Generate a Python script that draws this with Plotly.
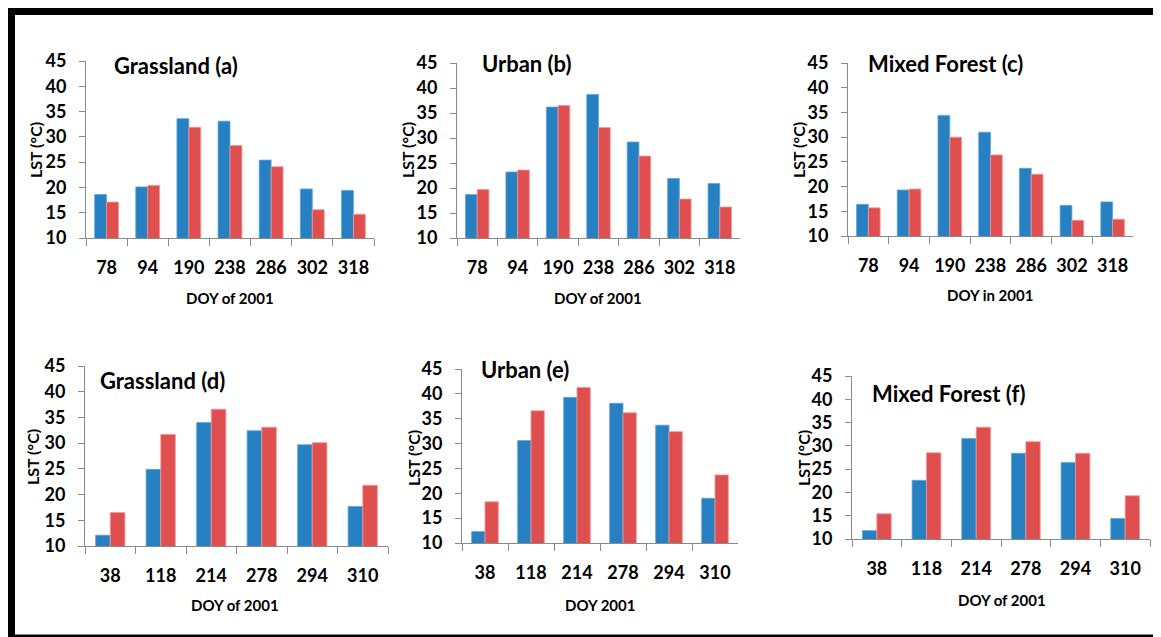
import plotly.graph_objects as go

FIG_W, FIG_H = 1161, 637
OFF = 8  # page offset of the figure inside the browser window (body margin)

# ---------------- data ----------------
doy_top = ["78", "94", "190", "238", "286", "302", "318"]
doy_bottom = ["38", "118", "214", "278", "294", "310"]

grass_a_blue = [18.6, 20.1, 33.6, 33.1, 25.4, 19.7, 19.4]
grass_a_red = [17.1, 20.4, 31.9, 28.3, 24.1, 15.6, 14.7]

urban_b_blue = [18.7, 23.2, 36.2, 38.7, 29.2, 21.9, 20.9]
urban_b_red = [19.7, 23.6, 36.5, 32.1, 26.4, 17.8, 16.2]

forest_c_blue = [16.4, 19.3, 34.4, 31.0, 23.7, 16.2, 16.9]
forest_c_red = [15.7, 19.5, 30.0, 26.4, 22.5, 13.2, 13.4]

grass_d_blue = [12.1, 24.9, 34.0, 32.4, 29.7, 17.7]
grass_d_red = [16.5, 31.7, 36.6, 33.1, 30.1, 21.8]

urban_e_blue = [12.3, 30.6, 39.3, 38.1, 33.7, 19.0]
urban_e_red = [18.3, 36.6, 41.3, 36.2, 32.4, 23.7]

forest_f_blue = [11.8, 22.6, 31.6, 28.4, 26.4, 14.4]
forest_f_red = [15.4, 28.5, 34.0, 30.9, 28.4, 19.3]

panel_titles = ["Grassland (a)", "Urban (b)", "Mixed Forest (c)",
                "Grassland (d)", "Urban (e)", "Mixed Forest (f)"]
x_titles = ["DOY of 2001", "DOY of 2001", "DOY in 2001",
            "DOY of 2001", "DOY 2001", "DOY of 2001"]
y_title = "LST (°C)"
y_ticks = [10, 15, 20, 25, 30, 35, 40, 45]

series = [
    (doy_top, grass_a_blue, grass_a_red),
    (doy_top, urban_b_blue, urban_b_red),
    (doy_top, forest_c_blue, forest_c_red),
    (doy_bottom, grass_d_blue, grass_d_red),
    (doy_bottom, urban_e_blue, urban_e_red),
    (doy_bottom, forest_f_blue, forest_f_red),
]

# ---------------- layout (target screen pixel positions) ----------------
geom = [
    dict(ax=(86, 374), ay=(61, 238), t=(112, 65), xt=(230, 298), yt=(35, 150)),
    dict(ax=(457, 740), ay=(63, 238), t=(480, 63), xt=(598, 298), yt=(407, 150)),
    dict(ax=(848, 1133), ay=(63, 236), t=(866, 63), xt=(990, 295), yt=(798, 150)),
    dict(ax=(85, 388), ay=(366, 546), t=(98, 380), xt=(235, 605), yt=(33, 457)),
    dict(ax=(462, 738), ay=(369, 543), t=(479, 370), xt=(600, 605), yt=(413, 458)),
    dict(ax=(852, 1150), ay=(376, 539), t=(870, 393), xt=(1002, 600), yt=(803, 458)),
]

BLUE = "#2680C2"
RED = "#DF4F4F"
AXIS = "#8A8A8A"
FONT = "Lato"


def fx(p):
    return (p - OFF) / FIG_W


def fy(p):
    return 1 - (p - OFF) / FIG_H


fig = go.Figure()
annotations = []

for i, ((cats, blue, red), g) in enumerate(zip(series, geom)):
    n = i + 1
    xa = "x" if n == 1 else f"x{n}"
    ya = "y" if n == 1 else f"y{n}"
    fig.add_trace(go.Bar(x=cats, y=blue, xaxis=xa, yaxis=ya, name="Series 1",
                         marker=dict(color=BLUE, line=dict(color="#5EA6DB", width=0.8)),
                         showlegend=False))
    fig.add_trace(go.Bar(x=cats, y=red, xaxis=xa, yaxis=ya, name="Series 2",
                         marker=dict(color=RED, line=dict(color="#F29A9A", width=0.8)),
                         showlegend=False))
    xkey = "xaxis" if n == 1 else f"xaxis{n}"
    ykey = "yaxis" if n == 1 else f"yaxis{n}"
    fig.update_layout(**{
        xkey: dict(domain=[fx(g["ax"][0]), fx(g["ax"][1])], anchor=ya,
                   type="category", range=[-0.5, len(cats) - 0.5],
                   automargin=False,
                   showline=True, linecolor=AXIS, linewidth=1,
                   ticks="outside", tickson="boundaries", ticklen=7,
                   tickcolor=AXIS, tickwidth=1, showgrid=False, zeroline=False,
                   ticklabelstandoff=13,
                   tickfont=dict(family=FONT, size=18, color="black", weight="bold")),
        ykey: dict(domain=[fy(g["ay"][1]), fy(g["ay"][0])], anchor=xa,
                   range=[10, 45], tickvals=y_ticks, automargin=False,
                   showline=True, linecolor=AXIS, linewidth=1,
                   ticks="outside", ticklen=6, tickcolor=AXIS, tickwidth=1,
                   showgrid=False, zeroline=False, ticklabelstandoff=9,
                   tickfont=dict(family=FONT, size=18, color="black", weight="bold")),
    })
    annotations.append(dict(text=panel_titles[i], xref="paper", yref="paper",
                            x=fx(g["t"][0]), y=fy(g["t"][1]),
                            xanchor="left", yanchor="middle", showarrow=False,
                            font=dict(family=FONT, size=22, color="black", weight="bold")))
    annotations.append(dict(text=x_titles[i], xref="paper", yref="paper",
                            x=fx(g["xt"][0]), y=fy(g["xt"][1]),
                            xanchor="center", yanchor="middle", showarrow=False,
                            font=dict(family=FONT, size=15, color="black", weight="bold")))
    annotations.append(dict(text=y_title, xref="paper", yref="paper",
                            x=fx(g["yt"][0]), y=fy(g["yt"][1]), textangle=-90,
                            xanchor="center", yanchor="middle", showarrow=False,
                            font=dict(family=FONT, size=16, color="black", weight="bold")))

# black frame: left, top and bottom edges (right edge lies outside the window)
frame = [
    dict(type="line", xref="paper", yref="paper", x0=fx(11.5), x1=fx(11.5),
         y0=0, y1=1, line=dict(color="black", width=7), layer="above"),
    dict(type="line", xref="paper", yref="paper", x0=0, x1=1,
         y0=fy(11.5), y1=fy(11.5), line=dict(color="black", width=7), layer="above"),
    dict(type="line", xref="paper", yref="paper", x0=0, x1=1,
         y0=fy(638), y1=fy(638), line=dict(color="black", width=7), layer="above"),
]

fig.update_layout(
    width=FIG_W, height=FIG_H,
    margin=dict(l=0, r=0, t=0, b=0, autoexpand=False),
    paper_bgcolor="white", plot_bgcolor="white",
    barmode="group", bargap=0.42, bargroupgap=0,
    annotations=annotations,
    shapes=frame,
)

fig.write_html("out.html")
